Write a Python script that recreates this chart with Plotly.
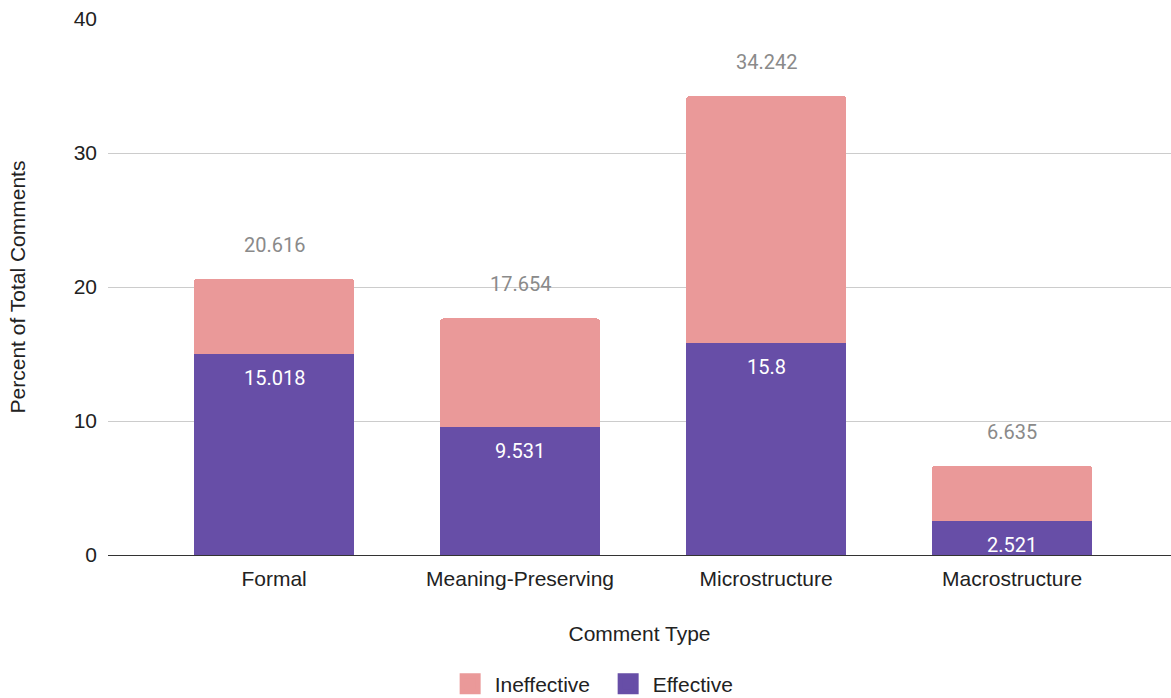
import plotly.graph_objects as go

# Share of comments by type, split by whether they were effective
categories = ["Formal", "Meaning-Preserving", "Microstructure", "Macrostructure"]
effective = [15.018, 9.531, 15.8, 2.521]
totals = [20.616, 17.654, 34.242, 6.635]
ineffective = [round(t - e, 3) for t, e in zip(totals, effective)]
y_ticks = [0, 10, 20, 30, 40]

PURPLE = "#674ea7"
PINK = "#ea9999"
TEXT = "#222222"
FONT = "Liberation Sans, Arial, sans-serif"
LABEL_FONT = "Roboto, sans-serif"
AX_SIZE = 21

x_idx = list(range(len(categories)))

fig = go.Figure()
fig.add_trace(go.Bar(
    x=x_idx, y=effective, name="Effective",
    marker=dict(color=PURPLE, line=dict(width=0)),
    width=0.65, hoverinfo="skip", showlegend=False,
))
fig.add_trace(go.Bar(
    x=x_idx, y=ineffective, name="Ineffective",
    marker=dict(color=PINK, line=dict(width=0)),
    width=0.65, hoverinfo="skip", showlegend=False,
))

# Legend swatches as square markers (outline in the same colour enlarges them)
for name, color in [("Ineffective", PINK), ("Effective", PURPLE)]:
    fig.add_trace(go.Scatter(
        x=[None], y=[None], mode="markers", name=name,
        marker=dict(symbol="square", size=16, color=color,
                    line=dict(width=5, color=color)),
        hoverinfo="skip", showlegend=True,
    ))

# Effective values inside the purple segment, totals above each stack
for i, (e, t) in enumerate(zip(effective, totals)):
    fig.add_annotation(
        x=i, y=e, text=f"{e:g}", showarrow=False,
        yanchor="top", yshift=-10,
        font=dict(family=LABEL_FONT, size=20, color="#ffffff"),
    )
    fig.add_annotation(
        x=i, y=t, text=f"{t:g}", showarrow=False,
        yanchor="bottom", yshift=20,
        font=dict(family=LABEL_FONT, size=20, color="#8a8a8a"),
    )

fig.update_layout(
    width=1171, height=698,
    barmode="stack",
    barcornerradius=3,
    plot_bgcolor="white", paper_bgcolor="white",
    margin=dict(l=108, r=0, t=19, b=143),
    font=dict(family=FONT, size=AX_SIZE, color=TEXT),
    showlegend=True,
    legend=dict(
        orientation="h", traceorder="normal",
        xref="container", x=0.5155, xanchor="center",
        yref="container", y=14 / 698, yanchor="middle",
        font=dict(family=FONT, size=AX_SIZE, color=TEXT),
        itemclick=False, itemsizing="trace",
        itemwidth=39, entrywidth=104,
    ),
    xaxis=dict(
        range=[-0.675, 3.646],
        tickmode="array", tickvals=x_idx, ticktext=categories,
        showgrid=False, zeroline=False,
        showline=False, ticks="",
        ticklabelstandoff=9,
        tickfont=dict(family=FONT, size=AX_SIZE, color=TEXT),
        title=dict(text="Comment Type", standoff=37,
                   font=dict(family=FONT, size=AX_SIZE, color=TEXT)),
        automargin=False,
    ),
    yaxis=dict(
        range=[0, 40],
        tickmode="array", tickvals=y_ticks,
        showgrid=True, gridcolor="#cccccc", gridwidth=1,
        zeroline=True, zerolinecolor="#333333", zerolinewidth=1,
        showline=False, ticks="",
        ticklabelstandoff=10,
        tickfont=dict(family=FONT, size=AX_SIZE, color=TEXT),
        title=dict(text="Percent of Total Comments", standoff=42,
                   font=dict(family=FONT, size=AX_SIZE, color=TEXT)),
        automargin=False,
    ),
)

fig.write_html("out.html")
